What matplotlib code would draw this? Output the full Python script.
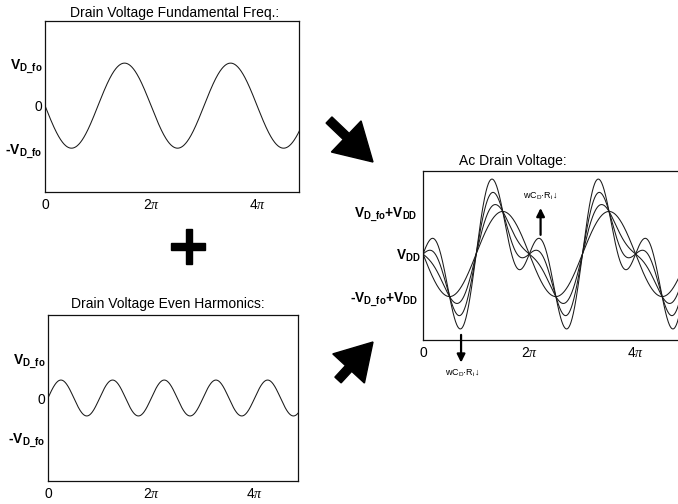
import numpy as np
import matplotlib
matplotlib.use("Agg")
import matplotlib.pyplot as plt
import matplotlib.patches as mpatches

plt.rcParams['font.family'] = ['Liberation Sans', 'DejaVu Sans']
plt.rcParams['mathtext.fontset'] = 'custom'
plt.rcParams['mathtext.rm'] = 'Liberation Sans'
plt.rcParams['mathtext.bf'] = 'Liberation Sans:bold'
plt.rcParams['mathtext.it'] = 'Liberation Serif:italic'

# waveform parameters (units of V_D_fo)
v_fo = 1.0                                  # fundamental amplitude
harmonic_amp = 0.45                         # 2nd harmonic shown alone
harmonic_ratios = [0.0, 1 / 3, 2 / 3, 1.0]  # harmonic/fundamental for the ac family
v_dd = 0.0                                  # dc level (offset reference)

titles = ["Drain Voltage Fundamental Freq.:",
          "Drain Voltage Even Harmonics:",
          "Ac Drain Voltage:"]
x_ticks = [0, 2 * np.pi, 4 * np.pi]
x_tick_labels = ["0", r"2$\pi$", r"4$\pi$"]
left_y_labels = [r"$\mathbf{V_{D\_fo}}$", "0", r"-$\mathbf{V_{D\_fo}}$"]
right_y_labels = [r"$\mathbf{V_{D\_fo}{+}V_{DD}}$", r"$\mathbf{V_{DD}}$",
                  r"-$\mathbf{V_{D\_fo}{+}V_{DD}}$"]
annot_text = r"wC$_\mathrm{D}$·R$_\mathrm{i}$↓"

W, H = 678, 504
fig = plt.figure(figsize=(W / 100, H / 100), dpi=100)


def box(l, t, r, b):
    return [l / W, (H - b) / H, (r - l) / W, (b - t) / H]


def style(ax, ylabels, yvals, xmax, ylim, ysize):
    ax.set_xlim(0, xmax)
    ax.set_ylim(*ylim)
    ax.set_xticks(x_ticks)
    ax.set_xticklabels(x_tick_labels, fontsize=10)
    ax.set_yticks(yvals)
    ax.set_yticklabels(ylabels, fontsize=ysize)
    for lab in ax.get_yticklabels():
        if lab.get_text() != "0":
            lab.set_fontweight("bold")
        else:
            lab.set_fontsize(10)
    ax.tick_params(length=0, pad=4)
    ax.tick_params(axis='y', pad=2)
    for s in ax.spines.values():
        s.set_linewidth(0.9)
        s.set_color('#111111')


line_kw = dict(color='#1a1a1a', lw=0.75)

# fundamental
ax1 = fig.add_axes(box(45, 21, 299, 192))
x1 = np.linspace(0, 15.1, 800)
ax1.plot(x1, -v_fo * np.sin(x1), **line_kw)
style(ax1, left_y_labels, [v_fo, 0, -v_fo], 15.05, (-2.03, 1.99), 10)
ax1.set_title(titles[0], fontsize=10, pad=3, x=0.51)

# even harmonic
ax2 = fig.add_axes(box(48, 315, 298, 481))
x2 = np.linspace(0, 15.3, 800)
ax2.plot(x2, harmonic_amp * np.sin(2 * x2), **line_kw)
style(ax2, left_y_labels, [v_fo, 0, -v_fo], 15.2, (-2.08, 2.08), 10)
ax2.set_title(titles[1], fontsize=10, pad=5, x=0.478)

# combined ac drain voltage
ax3 = fig.add_axes(box(423, 171, 681, 340))
x3 = np.linspace(0, 15.3, 900)
for a in harmonic_ratios:
    ax3.plot(x3, v_dd - v_fo * np.sin(x3) + a * v_fo * np.sin(2 * x3), **line_kw)
style(ax3, right_y_labels, [v_dd + v_fo, v_dd, v_dd - v_fo], 15.25,
      (v_dd - 2.02, v_dd + 1.95), 9.8)
ax3.tick_params(axis='y', pad=4)
ax3.get_yticklabels()[1].set_x(0.012)
ax3.set_title(titles[2], fontsize=10, pad=4, x=0.35)

arrow_kw = dict(arrowstyle='-|>', lw=1.6, color='black', mutation_scale=12,
                shrinkA=0, shrinkB=0)
ax3.annotate("", xy=(6.95, v_dd + 1.08), xytext=(6.95, v_dd + 0.45),
             arrowprops=arrow_kw, annotation_clip=False)
ax3.text(6.9, v_dd + 1.36, annot_text, fontsize=6.5, ha='center', va='center')
ax3.annotate("", xy=(2.25, v_dd - 2.55), xytext=(2.25, v_dd - 1.9),
             arrowprops=arrow_kw, annotation_clip=False)
ax3.text(2.3, v_dd - 2.8, annot_text, fontsize=6.5, ha='center', va='center',
         clip_on=False)

# big block arrows and plus sign (in inches from the lower-left corner)
tr = fig.dpi_scale_trans
fig.add_artist(mpatches.FancyArrow(3.29, (H - 120) / 100, 0.44, -0.42, width=0.085,
                                   head_width=0.43, head_length=0.37,
                                   length_includes_head=True, color='black',
                                   transform=tr))
fig.add_artist(mpatches.FancyArrow(3.38, (H - 380) / 100, 0.35, 0.38, width=0.085,
                                   head_width=0.43, head_length=0.36,
                                   length_includes_head=True, color='black',
                                   transform=tr))
fig.add_artist(mpatches.Rectangle((1.71, (H - 249.7) / 100), 0.34, 0.064,
                                  color='black', transform=tr))
fig.add_artist(mpatches.Rectangle((1.857, (H - 264.3) / 100), 0.066, 0.353,
                                  color='black', transform=tr))

fig.savefig("out.png", dpi=100)
